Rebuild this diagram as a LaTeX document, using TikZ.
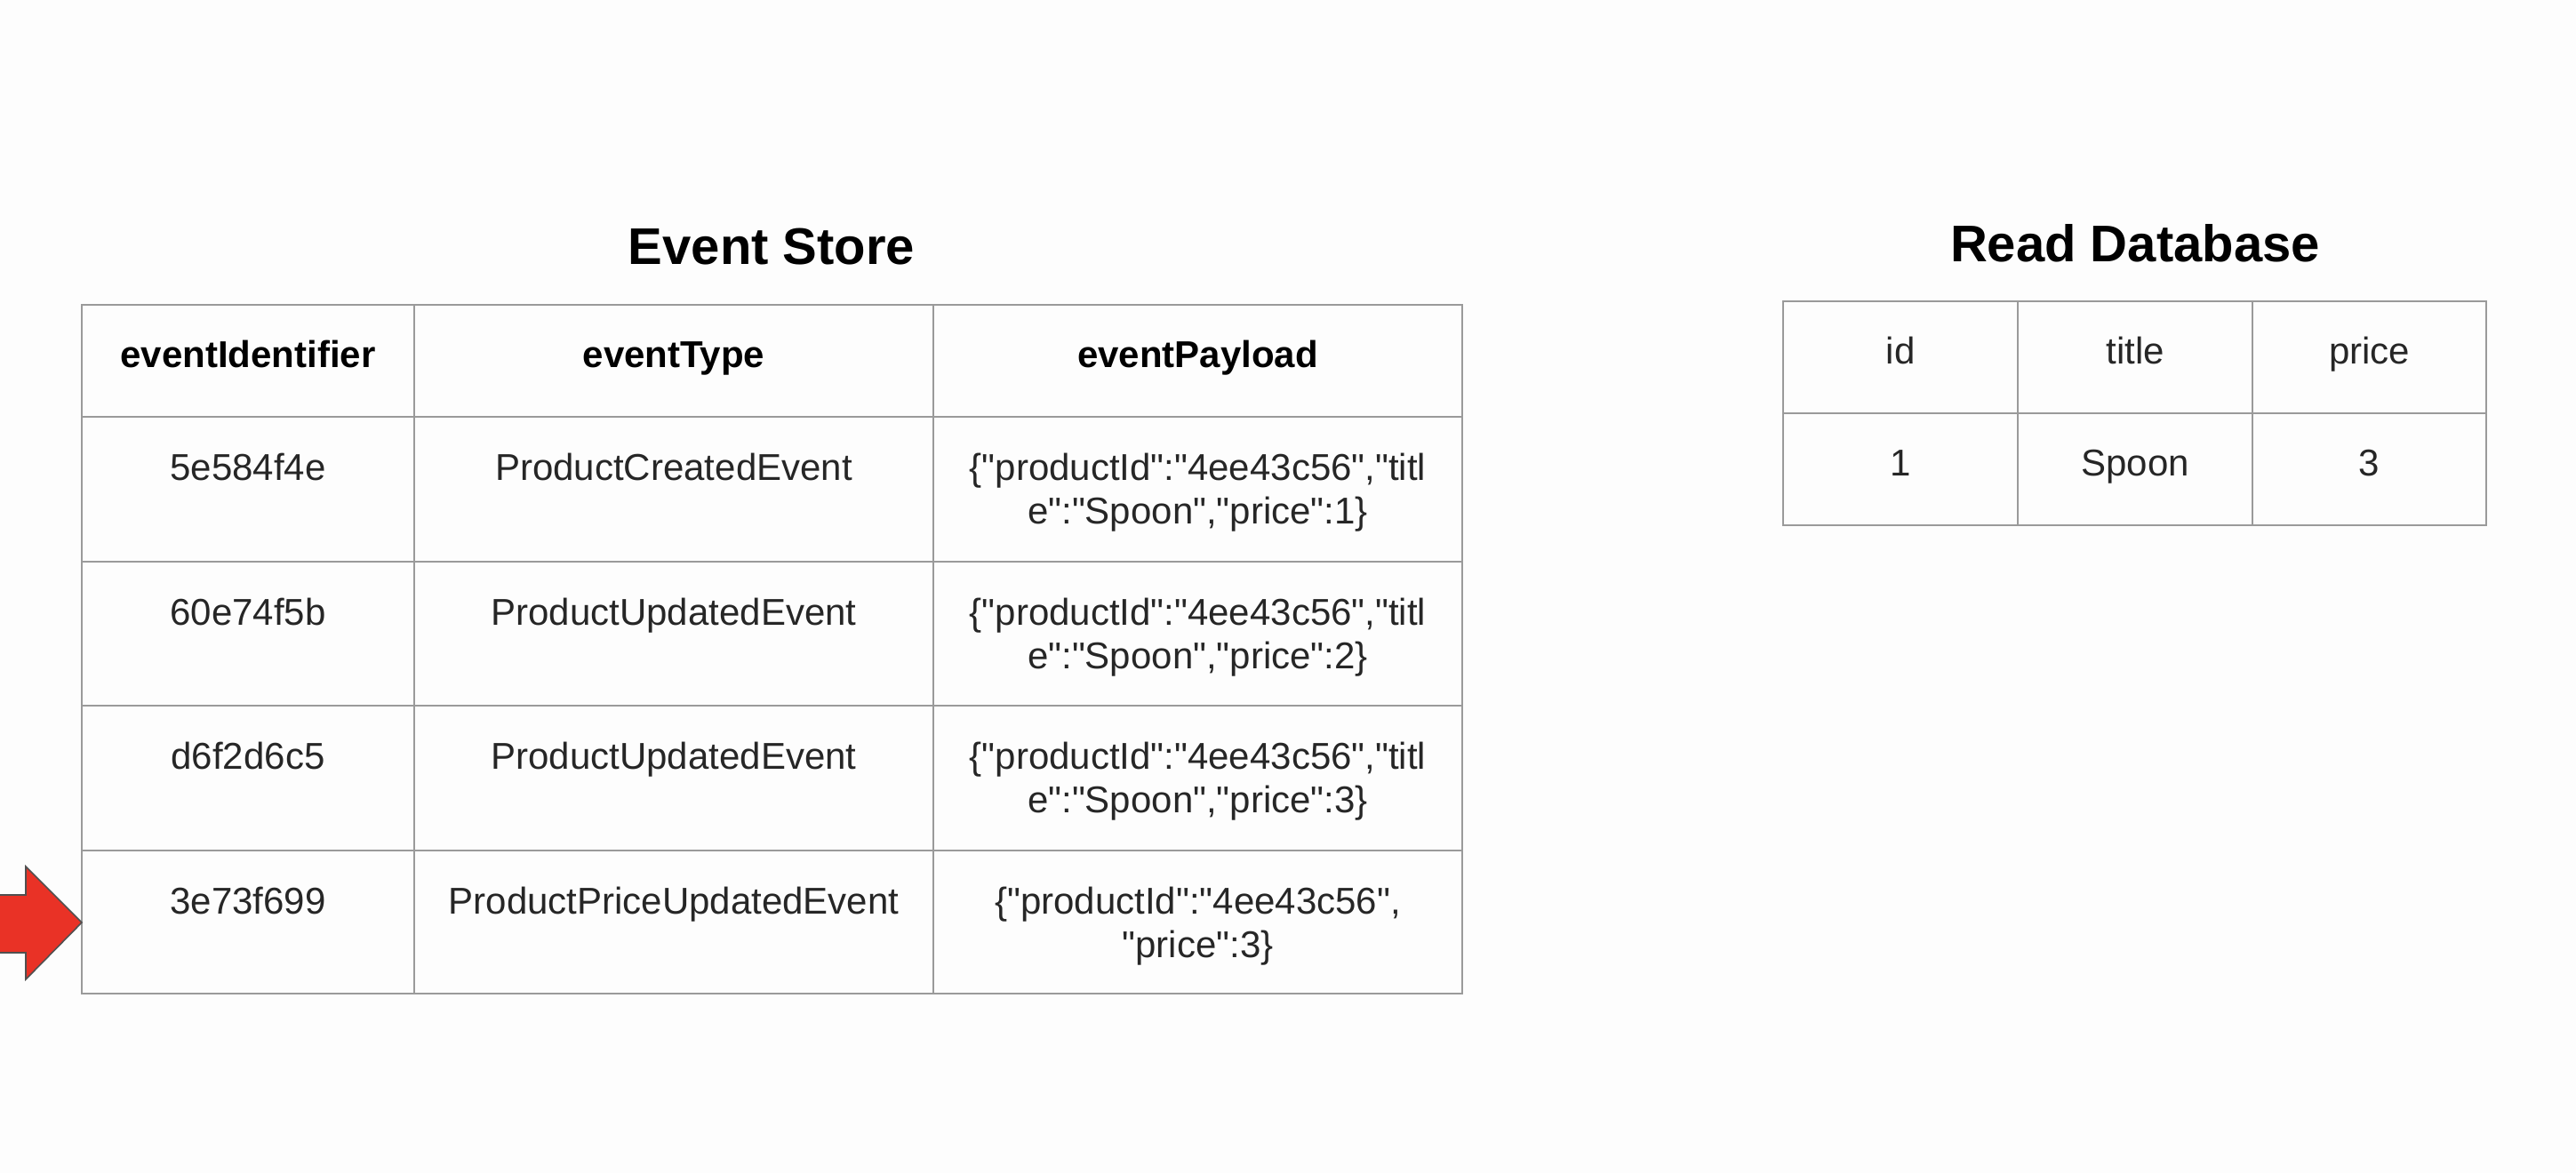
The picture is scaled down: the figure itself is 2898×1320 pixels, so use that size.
\documentclass[tikz,border=0pt]{standalone}
\usepackage{fontspec}
\setmainfont{Liberation Sans}[Ligatures=TeXOff]
\definecolor{bgc}{HTML}{FDFDFD}
\definecolor{gridc}{HTML}{9A9A9A}
\definecolor{txtc}{HTML}{262626}
\definecolor{arrowred}{RGB}{233,50,38}
\definecolor{arrowline}{HTML}{505050}
\tikzset{
  grid/.style={draw=gridc, line width=0.65pt},
  body/.style={inner sep=0pt, anchor=base, text=txtc, font=\fontsize{10.5}{12.25}\selectfont},
  head/.style={inner sep=0pt, anchor=base, text=black, font=\fontsize{10.5}{12.25}\selectfont\bfseries},
  ttl/.style={inner sep=0pt, anchor=base, text=black, font=\fontsize{14.5}{17}\selectfont\bfseries},
}
\newcommand{\twoline}[2]{\begin{tabular}[t]{@{}c@{}}#1\\#2\end{tabular}}
\begin{document}
\begin{tikzpicture}[x=0.25pt, y=-0.25pt]
\fill[bgc] (0,0) rectangle (2898,1320);
\useasboundingbox (0,0) rectangle (2898,1320);

% ---------- Event Store ----------
\node[ttl] (estitle) at (868,297) {Event Store};
\draw[grid] (92,343) rectangle (1645,1118);
\foreach \yy in {469,632,794,957} \draw[grid] (92,\yy) -- (1645,\yy);
\foreach \xx in {466,1050} \draw[grid] (\xx,343) -- (\xx,1118);

\node[head] (h1) at (279,413) {eventIdentifier};
\node[head] (h2) at (758,413) {eventType};
\node[head] (h3) at (1347.5,413) {eventPayload};

\node[body] (r1c1) at (279,540) {5e584f4e};
\node[body] (r1c2) at (758,540) {ProductCreatedEvent};
\node[body] (r1c3) at (1347.5,540) {\twoline{\{"productId":"4ee43c56","titl}{e":"Spoon","price":1\}}};

\node[body] (r2c1) at (279,703) {60e74f5b};
\node[body] (r2c2) at (758,703) {ProductUpdatedEvent};
\node[body] (r2c3) at (1347.5,703) {\twoline{\{"productId":"4ee43c56","titl}{e":"Spoon","price":2\}}};

\node[body] (r3c1) at (279,865) {d6f2d6c5};
\node[body] (r3c2) at (758,865) {ProductUpdatedEvent};
\node[body] (r3c3) at (1347.5,865) {\twoline{\{"productId":"4ee43c56","titl}{e":"Spoon","price":3\}}};

\node[body] (r4c1) at (279,1028) {3e73f699};
\node[body] (r4c2) at (758,1028) {ProductPriceUpdatedEvent};
\node[body] (r4c3) at (1347.5,1028) {\twoline{\{"productId":"4ee43c56",}{"price":3\}}};

% ---------- Read Database ----------
\node[ttl] (rdtitle) at (2402,294) {Read Database};
\draw[grid] (2006,339) rectangle (2797,591);
\draw[grid] (2006,465) -- (2797,465);
\foreach \xx in {2270,2534} \draw[grid] (\xx,339) -- (\xx,591);

\node[body] (dh1) at (2138,409) {id};
\node[body] (dh2) at (2402,409) {title};
\node[body] (dh3) at (2665.5,409) {price};
\node[body] (d1) at (2138,535) {1};
\node[body] (d2) at (2402,535) {Spoon};
\node[body] (d3) at (2665.5,535) {3};

% ---------- Red arrow ----------
\begin{scope}
\clip (0,0) rectangle (2898,1320);
\draw[fill=arrowred, draw=arrowline, line width=0.4pt, line join=miter]
  (-20,1007) -- (29,1007) -- (29,975) -- (92,1038) -- (29,1102) -- (29,1072) -- (-20,1072) -- cycle;
\end{scope}
\end{tikzpicture}
\end{document}
